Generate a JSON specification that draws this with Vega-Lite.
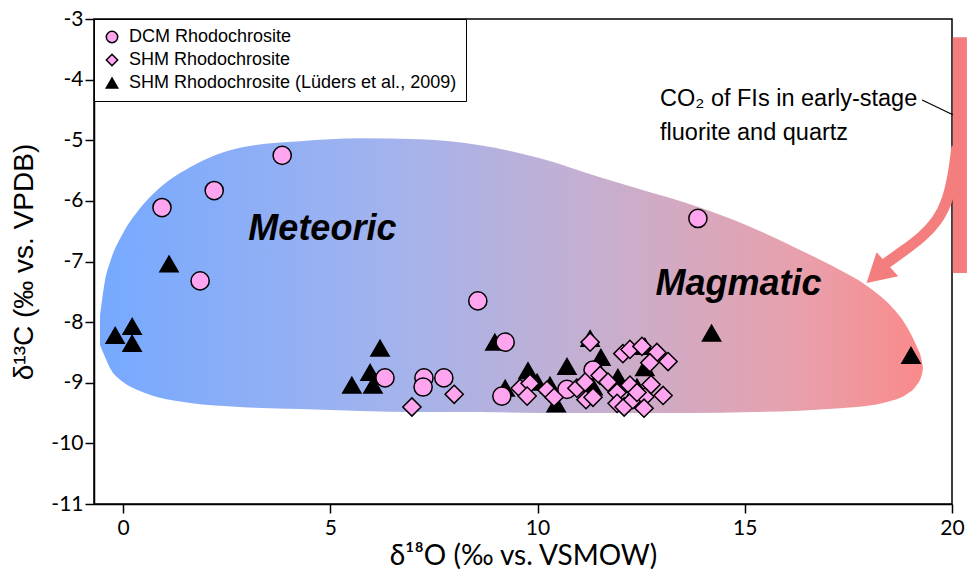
{
  "$schema": "https://vega.github.io/schema/vega-lite/v6.json",
  "width": 858,
  "height": 485,
  "autosize": {"type": "none"},
  "padding": {"left": 94, "top": 19, "right": 15, "bottom": 73},
  "background": "white",
  "config": {
    "view": {"stroke": "black", "strokeWidth": 1.5},
    "font": "Liberation Sans",
    "legend": {
      "orient": "top-left",
      "offset": 0,
      "padding": 9,
      "strokeColor": "black",
      "fillColor": "white",
      "labelFont": "Liberation Sans",
      "labelFontSize": 18,
      "labelColor": "black",
      "labelLimit": 500,
      "symbolSize": 130,
      "rowPadding": 5,
      "labelOffset": 8,
      "symbolOpacity": 1
    }
  },
  "datasets": {
    "blob": [
      {"x": -0.555, "y": -7.885, "y2": -8.379},
      {"x": -0.507, "y": -7.638, "y2": -8.461},
      {"x": -0.434, "y": -7.308, "y2": -8.577},
      {"x": -0.314, "y": -7.012, "y2": -8.758},
      {"x": 0.0, "y": -6.534, "y2": -8.988},
      {"x": 0.41, "y": -6.122, "y2": -9.137},
      {"x": 0.82, "y": -5.825, "y2": -9.236},
      {"x": 1.616, "y": -5.446, "y2": -9.334},
      {"x": 2.823, "y": -5.122, "y2": -9.4},
      {"x": 4.27, "y": -5.018, "y2": -9.433},
      {"x": 5.718, "y": -4.969, "y2": -9.466},
      {"x": 7.165, "y": -4.985, "y2": -9.483},
      {"x": 8.613, "y": -5.084, "y2": -9.483},
      {"x": 10.06, "y": -5.298, "y2": -9.499},
      {"x": 11.508, "y": -5.611, "y2": -9.499},
      {"x": 12.473, "y": -5.809, "y2": -9.499},
      {"x": 13.607, "y": -6.04, "y2": -9.499},
      {"x": 15.199, "y": -6.447, "y2": -9.483},
      {"x": 16.333, "y": -6.81, "y2": -9.46},
      {"x": 17.298, "y": -7.14, "y2": -9.42},
      {"x": 17.925, "y": -7.39, "y2": -9.384},
      {"x": 18.432, "y": -7.67, "y2": -9.318},
      {"x": 18.914, "y": -8.082, "y2": -9.186},
      {"x": 19.132, "y": -8.379, "y2": -9.054},
      {"x": 19.276, "y": -8.659, "y2": -8.856},
      {"x": 19.3, "y": -8.758, "y2": -8.758}
    ],
    "bar": [{"x": 20.02, "x2": 20.36, "y": -3.3, "y2": -7.19}],
    "arrow": [
      {"o": 1, "x": 20.12, "y": -5.1},
      {"o": 2, "x": 20.04, "y": -5.55},
      {"o": 3, "x": 19.9, "y": -5.99},
      {"o": 4, "x": 19.66, "y": -6.32},
      {"o": 5, "x": 19.28, "y": -6.6},
      {"o": 6, "x": 18.82, "y": -6.83},
      {"o": 7, "x": 18.38, "y": -7.04},
      {"o": 8, "x": 18.2, "y": -7.15}
    ],
    "head": [{"x": 18.19, "y": -7.2}],
    "leader": [
      {"o": 1, "x": 19.28, "y": -4.336},
      {"o": 2, "x": 20.02, "y": -4.58}
    ],
    "note": [{"x": 12.955, "y": -4.435, "label": "CO₂ of FIs in early-stage\nfluorite and quartz"}],
    "regions": [
      {"x": 4.81, "y": -6.647, "label": "Meteoric"},
      {"x": 14.85, "y": -7.554, "label": "Magmatic"}
    ],
    "points": [
      {"s": "SHM Rhodochrosite (Lüders et al., 2009)", "x": -0.19, "y": -8.22},
      {"s": "SHM Rhodochrosite (Lüders et al., 2009)", "x": 0.22, "y": -8.07},
      {"s": "SHM Rhodochrosite (Lüders et al., 2009)", "x": 0.22, "y": -8.35},
      {"s": "SHM Rhodochrosite (Lüders et al., 2009)", "x": 1.11, "y": -7.04},
      {"s": "SHM Rhodochrosite (Lüders et al., 2009)", "x": 6.2, "y": -8.43},
      {"s": "SHM Rhodochrosite (Lüders et al., 2009)", "x": 5.96, "y": -8.83},
      {"s": "SHM Rhodochrosite (Lüders et al., 2009)", "x": 5.52, "y": -9.04},
      {"s": "SHM Rhodochrosite (Lüders et al., 2009)", "x": 6.03, "y": -9.04},
      {"s": "SHM Rhodochrosite (Lüders et al., 2009)", "x": 8.97, "y": -8.33},
      {"s": "SHM Rhodochrosite (Lüders et al., 2009)", "x": 9.22, "y": -9.09},
      {"s": "SHM Rhodochrosite (Lüders et al., 2009)", "x": 9.77, "y": -8.8},
      {"s": "SHM Rhodochrosite (Lüders et al., 2009)", "x": 9.99, "y": -8.99},
      {"s": "SHM Rhodochrosite (Lüders et al., 2009)", "x": 10.3, "y": -9.04},
      {"s": "SHM Rhodochrosite (Lüders et al., 2009)", "x": 10.71, "y": -8.73},
      {"s": "SHM Rhodochrosite (Lüders et al., 2009)", "x": 10.45, "y": -9.35},
      {"s": "SHM Rhodochrosite (Lüders et al., 2009)", "x": 11.27, "y": -8.27},
      {"s": "SHM Rhodochrosite (Lüders et al., 2009)", "x": 11.53, "y": -8.58},
      {"s": "SHM Rhodochrosite (Lüders et al., 2009)", "x": 11.94, "y": -8.91},
      {"s": "SHM Rhodochrosite (Lüders et al., 2009)", "x": 12.59, "y": -8.4},
      {"s": "SHM Rhodochrosite (Lüders et al., 2009)", "x": 12.59, "y": -8.75},
      {"s": "SHM Rhodochrosite (Lüders et al., 2009)", "x": 12.4, "y": -9.07},
      {"s": "SHM Rhodochrosite (Lüders et al., 2009)", "x": 11.34, "y": -9.07},
      {"s": "SHM Rhodochrosite (Lüders et al., 2009)", "x": 14.2, "y": -8.18},
      {"s": "SHM Rhodochrosite (Lüders et al., 2009)", "x": 19.01, "y": -8.55},
      {"s": "DCM Rhodochrosite", "x": 3.84, "y": -5.25},
      {"s": "DCM Rhodochrosite", "x": 2.2, "y": -5.83},
      {"s": "DCM Rhodochrosite", "x": 0.94, "y": -6.11},
      {"s": "DCM Rhodochrosite", "x": 1.86, "y": -7.32},
      {"s": "DCM Rhodochrosite", "x": 13.87, "y": -6.29},
      {"s": "DCM Rhodochrosite", "x": 8.56, "y": -7.65},
      {"s": "DCM Rhodochrosite", "x": 9.22, "y": -8.33},
      {"s": "DCM Rhodochrosite", "x": 6.32, "y": -8.92},
      {"s": "DCM Rhodochrosite", "x": 7.26, "y": -8.92},
      {"s": "DCM Rhodochrosite", "x": 7.24, "y": -9.07},
      {"s": "DCM Rhodochrosite", "x": 7.74, "y": -8.92},
      {"s": "DCM Rhodochrosite", "x": 9.14, "y": -9.22},
      {"s": "DCM Rhodochrosite", "x": 10.71, "y": -9.11},
      {"s": "DCM Rhodochrosite", "x": 11.34, "y": -8.79},
      {"s": "SHM Rhodochrosite", "x": 6.97, "y": -9.4},
      {"s": "SHM Rhodochrosite", "x": 7.99, "y": -9.19},
      {"s": "SHM Rhodochrosite", "x": 9.58, "y": -9.09},
      {"s": "SHM Rhodochrosite", "x": 9.82, "y": -9.01},
      {"s": "SHM Rhodochrosite", "x": 9.75, "y": -9.22},
      {"s": "SHM Rhodochrosite", "x": 10.23, "y": -9.12},
      {"s": "SHM Rhodochrosite", "x": 10.4, "y": -9.24},
      {"s": "SHM Rhodochrosite", "x": 10.95, "y": -9.09},
      {"s": "SHM Rhodochrosite", "x": 11.15, "y": -8.99},
      {"s": "SHM Rhodochrosite", "x": 11.17, "y": -9.28},
      {"s": "SHM Rhodochrosite", "x": 11.34, "y": -9.24},
      {"s": "SHM Rhodochrosite", "x": 11.27, "y": -8.33},
      {"s": "SHM Rhodochrosite", "x": 11.51, "y": -8.88},
      {"s": "SHM Rhodochrosite", "x": 11.7, "y": -8.99},
      {"s": "SHM Rhodochrosite", "x": 11.92, "y": -9.16},
      {"s": "SHM Rhodochrosite", "x": 11.92, "y": -9.34},
      {"s": "SHM Rhodochrosite", "x": 12.09, "y": -9.4},
      {"s": "SHM Rhodochrosite", "x": 12.23, "y": -9.04},
      {"s": "SHM Rhodochrosite", "x": 12.3, "y": -9.28},
      {"s": "SHM Rhodochrosite", "x": 12.59, "y": -9.23},
      {"s": "SHM Rhodochrosite", "x": 12.74, "y": -9.03},
      {"s": "SHM Rhodochrosite", "x": 13.03, "y": -9.21},
      {"s": "SHM Rhodochrosite", "x": 12.57, "y": -9.42},
      {"s": "SHM Rhodochrosite", "x": 12.06, "y": -8.52},
      {"s": "SHM Rhodochrosite", "x": 12.23, "y": -8.45},
      {"s": "SHM Rhodochrosite", "x": 12.52, "y": -8.4},
      {"s": "SHM Rhodochrosite", "x": 12.88, "y": -8.5},
      {"s": "SHM Rhodochrosite", "x": 12.71, "y": -8.67},
      {"s": "SHM Rhodochrosite", "x": 13.15, "y": -8.65},
      {"s": "SHM Rhodochrosite", "x": 12.4, "y": -9.16}
    ]
  },
  "encoding": {
    "x": {
      "field": "x",
      "type": "quantitative",
      "scale": {"domain": [-0.7, 20], "nice": false, "zero": false},
      "axis": {
        "values": [0, 5, 10, 15, 20],
        "title": "δ¹⁸O (‰ vs. VSMOW)",
        "grid": false,
        "labelExpr": "'' + datum.value",
        "labelFlush": false,
        "labelOverlap": false,
        "tickSize": 9,
        "tickWidth": 1.5,
        "tickColor": "black",
        "domainColor": "black",
        "domainWidth": 1.5,
        "labelFont": "Lato",
        "labelFontSize": 21,
        "labelColor": "black",
        "labelPadding": 4,
        "titleFont": "Lato",
        "titleFontSize": 28,
        "titleFontWeight": "normal",
        "titleColor": "black",
        "titlePadding": 4
      }
    },
    "y": {
      "field": "y",
      "type": "quantitative",
      "scale": {"domain": [-11, -3], "nice": false, "zero": false},
      "axis": {
        "values": [-11, -10, -9, -8, -7, -6, -5, -4, -3],
        "title": "δ¹³C (‰ vs. VPDB)",
        "grid": false,
        "labelExpr": "'' + datum.value",
        "labelFlush": false,
        "labelOverlap": false,
        "tickSize": 9,
        "tickWidth": 1.5,
        "tickColor": "black",
        "domainColor": "black",
        "domainWidth": 1.5,
        "labelFont": "Lato",
        "labelFontSize": 21,
        "labelColor": "black",
        "labelPadding": 2,
        "titleFont": "Liberation Sans",
        "titleFontSize": 28,
        "titleFontWeight": "normal",
        "titleColor": "black",
        "titlePadding": 12
      }
    }
  },
  "layer": [
    {
      "data": {"name": "blob"},
      "mark": {
        "type": "area",
        "interpolate": "monotone",
        "color": {
          "gradient": "linear",
          "x1": 0, "y1": 0, "x2": 1, "y2": 0,
          "stops": [
            {"offset": 0, "color": "#76A9FF"},
            {"offset": 0.35, "color": "#A2B3EE"},
            {"offset": 0.6, "color": "#C6AFD0"},
            {"offset": 0.85, "color": "#E8A0AC"},
            {"offset": 1, "color": "#FA8A8A"}
          ]
        }
      },
      "encoding": {"y2": {"field": "y2"}}
    },
    {
      "data": {"name": "regions"},
      "mark": {"type": "text", "font": "Liberation Sans", "fontSize": 36, "fontWeight": "bold", "fontStyle": "italic", "align": "center", "baseline": "alphabetic", "color": "black"},
      "encoding": {"text": {"field": "label"}}
    },
    {
      "data": {"name": "bar"},
      "mark": {"type": "rect", "color": "#F47E7E", "clip": false},
      "encoding": {"x2": {"field": "x2"}, "y2": {"field": "y2"}}
    },
    {
      "data": {"name": "arrow"},
      "mark": {"type": "line", "color": "#F47E7E", "strokeWidth": 11, "interpolate": "basis", "strokeCap": "butt"},
      "encoding": {"order": {"field": "o"}}
    },
    {
      "data": {"name": "head"},
      "mark": {"type": "point", "shape": "triangle-up", "filled": true, "color": "#F47E7E", "size": 1050, "angle": 228, "opacity": 1},
      "encoding": {}
    },
    {
      "data": {"name": "leader"},
      "mark": {"type": "line", "color": "black", "strokeWidth": 1.2},
      "encoding": {"order": {"field": "o"}}
    },
    {
      "data": {"name": "note"},
      "mark": {"type": "text", "font": "Liberation Sans", "fontSize": 23.5, "align": "left", "baseline": "alphabetic", "lineBreak": "\n", "lineHeight": 34, "color": "black"},
      "encoding": {"text": {"field": "label"}}
    },
    {
      "data": {"name": "points"},
      "mark": {"type": "point", "filled": true, "stroke": "black", "strokeWidth": 1.5, "opacity": 1, "size": 330},
      "encoding": {
        "shape": {
          "field": "s",
          "type": "nominal",
          "title": null,
          "scale": {
            "domain": ["DCM Rhodochrosite", "SHM Rhodochrosite", "SHM Rhodochrosite (Lüders et al., 2009)"],
            "range": ["circle", "diamond", "triangle-up"]
          },
          "legend": {
            "encode": {
              "symbols": {"update": {"stroke": {"value": "black"}, "strokeWidth": {"value": 1}}}
            }
          }
        },
        "color": {
          "field": "s",
          "type": "nominal",
          "title": null,
          "scale": {
            "domain": ["DCM Rhodochrosite", "SHM Rhodochrosite", "SHM Rhodochrosite (Lüders et al., 2009)"],
            "range": ["#FFA5F0", "#FFA5F0", "black"]
          },
          "legend": {
            "encode": {
              "symbols": {"update": {"stroke": {"value": "black"}, "strokeWidth": {"value": 1}}}
            }
          }
        }
      }
    }
  ]
}
